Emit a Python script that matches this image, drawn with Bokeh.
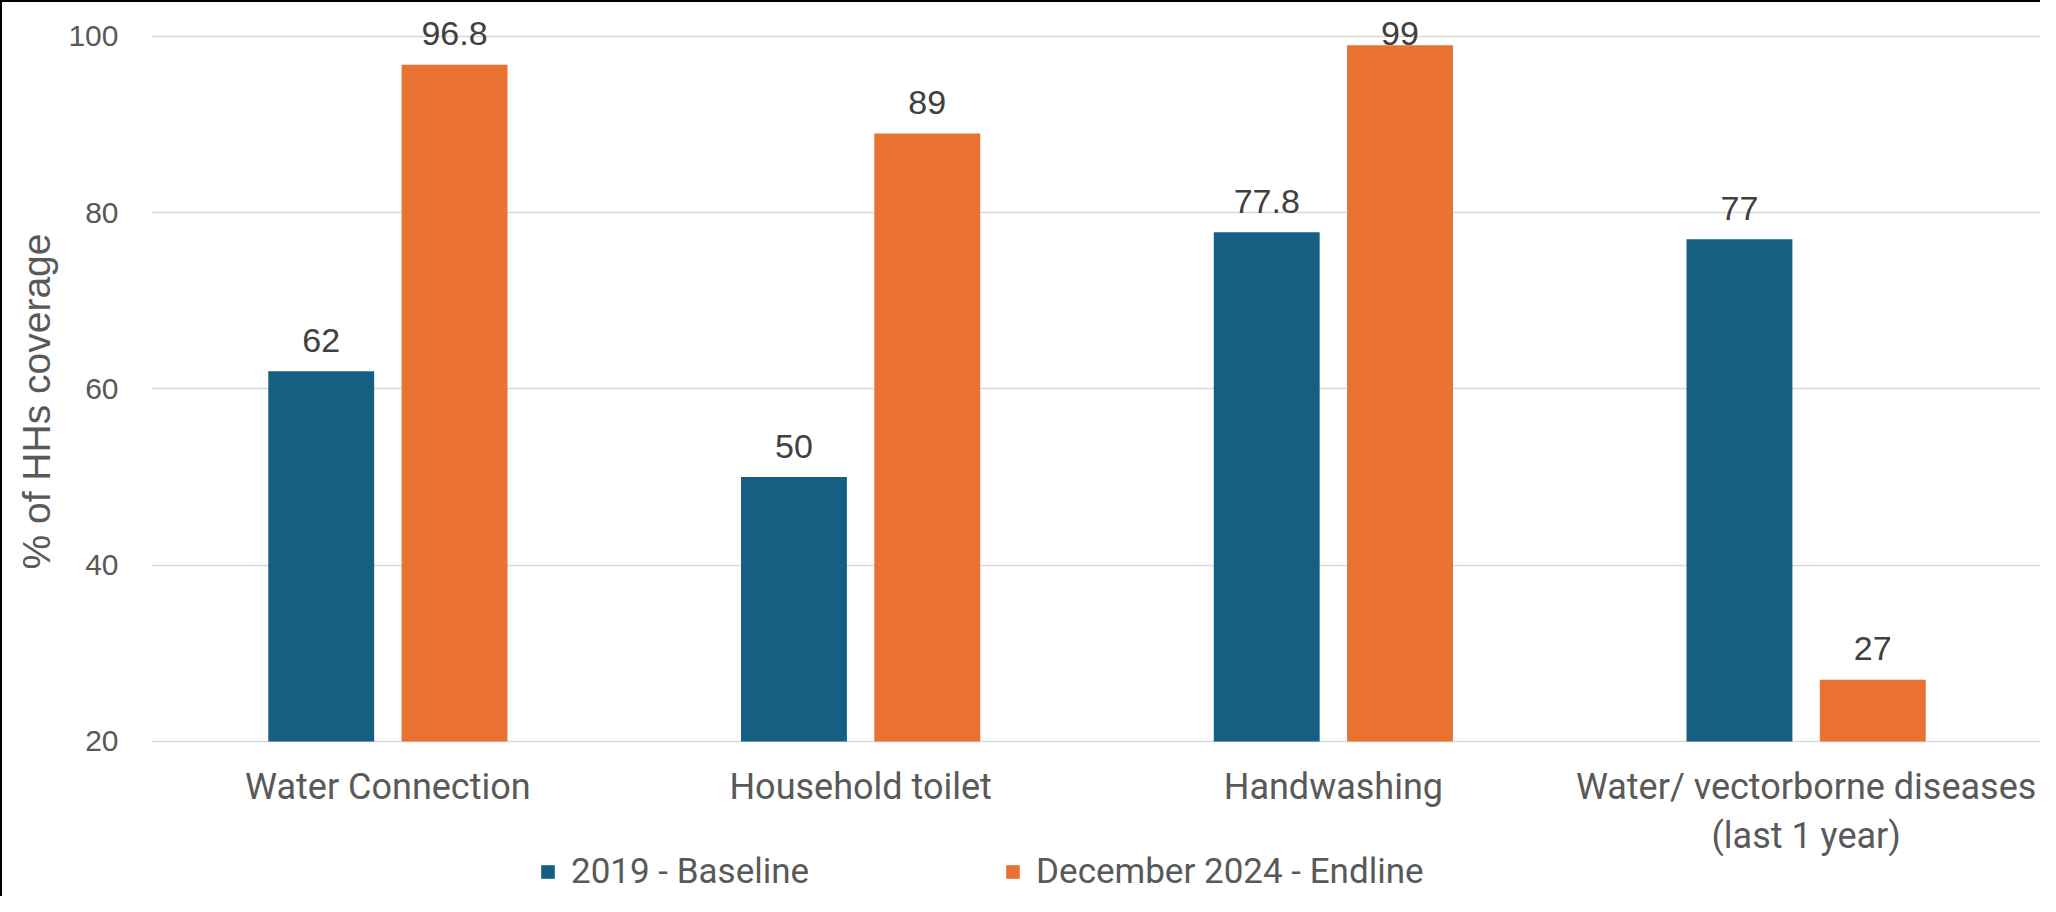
from bokeh.plotting import figure
from bokeh.models import ColumnDataSource, FixedTicker, Legend, LegendItem, Title
from bokeh.transform import dodge
from bokeh.core.properties import value
from bokeh.embed import file_html
from bokeh.resources import INLINE

# ---- data ----
categories = ["Water Connection", "Household toilet", "Handwashing",
              "Water/ vectorborne diseases (last 1 year)"]
category_line1 = ["Water Connection", "Household toilet", "Handwashing",
                  "Water/ vectorborne diseases"]
category_line2 = ["", "", "", "(last 1 year)"]
baseline = [62, 50, 77.8, 77]
endline = [96.8, 89, 99, 27]
series_names = ["2019 - Baseline", "December 2024 - Endline"]
y_ticks = [20, 40, 60, 80, 100]
y_title = "% of HHs coverage"

# value axis: 20 is the baseline; the frame also extends below it to hold the
# category names and the legend (as in the reference's chart area)
Y_BASE = 20
Y_LOW, Y_MAX = 2.18, 102.61
LABEL_CEIL = 96.8          # data labels are kept inside the chart area (as Excel does)
BLUE, ORANGE = "#156082", "#E97132"
NUM_FONT = "Liberation Sans"
CAT_FONT = "Roboto"
GREY = "#595959"

src = ColumnDataSource(dict(
    cat=categories,
    base=baseline,
    end=endline,
    base_lbl=[f"{v:g}" for v in baseline],
    end_lbl=[f"{v:g}" for v in endline],
    base_ly=[min(v, LABEL_CEIL) for v in baseline],
    end_ly=[min(v, LABEL_CEIL) for v in endline],
    line1=category_line1,
    line2=category_line2,
    y0=[Y_BASE] * len(categories),
))

p = figure(x_range=categories, y_range=(Y_LOW, Y_MAX), width=2040, height=896,
           output_backend="svg", toolbar_location=None, x_axis_location=None,
           min_border_left=149, min_border_right=0, min_border_top=11, min_border_bottom=0)
p.styles = {"border-top": "2px solid #000000", "border-left": "2px solid #000000"}
p.outline_line_color = None
p.background_fill_color = "white"

r1 = p.vbar(x=dodge("cat", -0.141, range=p.x_range), top="base", bottom=Y_BASE, width=0.224,
            source=src, fill_color=BLUE, line_color=None)
r2 = p.vbar(x=dodge("cat", 0.141, range=p.x_range), top="end", bottom=Y_BASE, width=0.224,
            source=src, fill_color=ORANGE, line_color=None)

# data labels
for xoff, col in ((-0.141, "base"), (0.141, "end")):
    p.text(x=dodge("cat", xoff, range=p.x_range), y=col + "_ly", text=col + "_lbl", source=src,
           text_align="center", text_baseline="alphabetic", y_offset=-31,
           text_font=value(NUM_FONT), text_font_size="34px", text_color="#404040")

# category names (two lines) under the baseline
for col, off in (("line1", 46), ("line2", 95)):
    p.text(x="cat", y="y0", text=col, source=src, text_align="center",
           text_baseline="middle", y_offset=off,
           text_font=value(CAT_FONT), text_font_size="36px", text_color=GREY)

# y axis
p.yaxis.ticker = FixedTicker(ticks=y_ticks)
p.yaxis.axis_line_color = None
p.yaxis.major_tick_line_color = None
p.yaxis.major_tick_out = 0
p.yaxis.major_tick_in = 0
p.yaxis.minor_tick_line_color = None
p.yaxis.major_label_text_font = NUM_FONT
p.yaxis.major_label_text_font_size = "30px"
p.yaxis.major_label_text_color = GREY
p.yaxis.major_label_standoff = 33

p.add_layout(Title(text=y_title, align="left", offset=329, standoff=14,
                   text_font=NUM_FONT, text_font_size="39px", text_font_style="normal",
                   text_color=GREY, vertical_align="middle"), "left")

p.xgrid.grid_line_color = None
p.ygrid.grid_line_color = "#D9D9D9"
p.ygrid.grid_line_width = 1.5

legend = Legend(items=[LegendItem(label=series_names[0], renderers=[r1]),
                       LegendItem(label=series_names[1], renderers=[r2])],
                location=(388, 6), orientation="horizontal", spacing=195,
                glyph_width=17, glyph_height=17, label_standoff=15,
                padding=0, margin=0, border_line_color=None, background_fill_alpha=0,
                label_text_font=CAT_FONT, label_text_font_size="35px", label_text_color=GREY)
p.add_layout(legend, "center")

open("out.html", "w").write(file_html(p, INLINE))
